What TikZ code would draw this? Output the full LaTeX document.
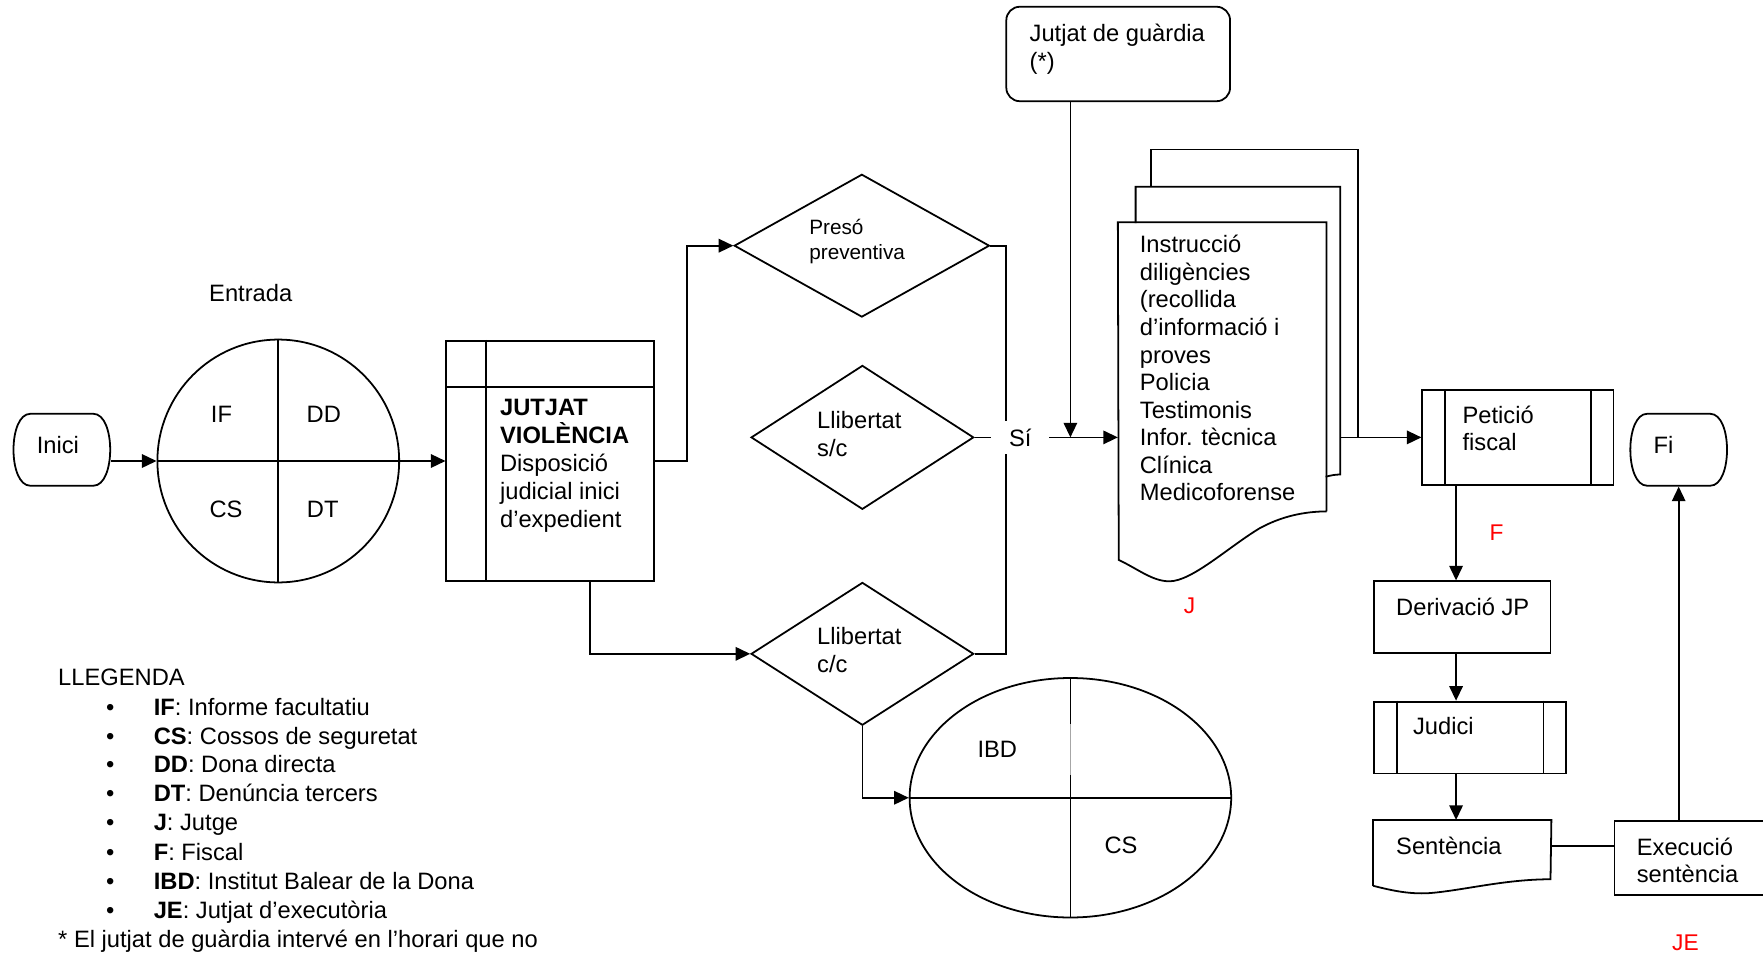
\documentclass[tikz,border=0pt]{standalone}
\usepackage{fontspec}
\setmainfont{Liberation Sans}
\usetikzlibrary{arrows.meta,shapes.geometric,calc}
\newcommand\ux{0.02cm}
\tikzset{
  sz/.style 2 args={minimum width=#1*\ux, minimum height=#2*\ux},
  txt/.style={anchor=north west, align=left},
  lbl/.style={anchor=base},
  arr/.style={-{Triangle[length=0.26cm,width=0.24cm]}},
  red label/.style={anchor=base, text=red, font=\fontsize{11.5}{13}\selectfont},
  legend/.style={anchor=base west},
}
\begin{document}
\begin{tikzpicture}[x=0.02cm, y=-0.02cm, line width=0.9pt,
  every node/.style={font=\fontsize{12}{14.1}\selectfont, inner sep=0pt}]
\useasboundingbox (0,0) rectangle (1568,850);
\clip (0,0) rectangle (1568,850);

% ---- start terminator
\node[sz={86}{64}] (inici) at (55,400) {};
\draw (27,368) -- (83,368) .. controls (103,368) and (103,432) .. (83,432)
      -- (27,432) .. controls (7,432) and (7,368) .. (27,368) -- cycle;
\node[lbl] (t-inici) at (51.5,403.5) {Inici};

% ---- entry circle
\node[draw, ellipse, sz={215}{216}] (ent) at (247.5,410) {};
\draw (ent.north) -- (ent.south);
\draw (ent.west) -- (ent.east);
\node[lbl] (t-ent) at (223,268.5) {Entrada};
\node[lbl] (t-if) at (197,375.5) {IF};
\node[lbl] (t-dd) at (288,375.5) {DD};
\node[lbl] (t-cs) at (201,460.5) {CS};
\node[lbl] (t-dt) at (287,460.5) {DT};
\draw[arr] (inici.east |- ent.west) -- (ent.west);

% ---- court box
\node[draw, sz={185}{214}] (jv) at (489.5,410) {};
\draw ([xshift=36*\ux]jv.north west) -- ([xshift=36*\ux]jv.south west);
\draw ([yshift=-42*\ux]jv.north west) -- ([yshift=-42*\ux]jv.north east);
\node[txt] (t-jv) at (444,354.5)
  {\textbf{JUTJAT}\\\textbf{VIOLÈNCIA}\\Disposició\\judicial inici\\d’expedient};
\draw[arr] (ent.east) -- (jv.west);

% ---- decisions
\node[draw, diamond, sz={227}{127}] (preso) at (766.5,218.5) {};
\node[txt, font=\fontsize{10.5}{12.5}\selectfont] (t-preso) at (719,194.4) {Presó\\preventiva};
\node[draw, diamond, sz={198}{128}] (sc) at (767,389) {};
\node[txt] (t-sc) at (726,365) {Llibertat\\s/c};
\node[draw, diamond, sz={198}{127}] (cc) at (767,581.5) {};
\node[txt] (t-cc) at (726,557) {Llibertat\\c/c};

\draw[arr] (jv.east) -- ++(28,0) |- (preso.west);
\draw[arr] ([xshift=35.5*\ux]jv.south) |- (cc.west);

% ---- "Sí" junction
\node[sz={50}{28}] (si) at (907.5,389) {Sí};
\coordinate (bus) at (895,389);
\draw (preso.east) -| (si.north -| bus);
\draw (cc.east) -| (si.south -| bus);
\draw (sc.east) -- (si.west);

% ---- duty court
\node[draw, rounded corners=0.24cm, sz={199}{84}] (guardia) at (994.5,48) {};
\node[txt, font=\fontsize{12}{14.3}\selectfont] (t-guardia) at (915,20.5) {Jutjat de guàrdia\\(*)};

% ---- instruction documents (stack)
\draw (1024,166) -- (1024,133) -- (1208,133) -- (1208,389);
\draw (1010,198.5) -- (1010,166) -- (1192,166) -- (1192,422)
      .. controls (1187,422) and (1183,423) .. (1179,424);
\node[sz={184}{255.5}] (doc) at (1087,326.25) {};
\draw (doc.south east) -- (doc.north east) -- (doc.north west) -- (995,498)
      .. controls (1012,506) and (1025,517) .. (1040,517)
      .. controls (1060,517) and (1092,487) .. (1120,470)
      .. controls (1140,459) and (1160,455) .. (doc.south east);
\node[txt, font=\fontsize{12}{13.95}\selectfont] (t-doc) at (1013,208.5)
  {Instrucció\\diligències\\(recollida\\d’informació i\\proves\\Policia\\Testimonis\\Infor. tècnica\\Clínica\\Medicoforense};
\node[red label] (t-j) at (1058,546) {J};

\draw[arr] (si.east) -- (si.east -| doc.west);
\coordinate (gd) at (952,389);
\draw[arr] (guardia.south -| gd) -- (gd);

% ---- prosecutor request
\node[draw, sz={170}{84}] (pet) at (1350,389) {};
\draw ([xshift=21*\ux]pet.north west) -- ([xshift=21*\ux]pet.south west);
\draw ([xshift=-21*\ux]pet.north east) -- ([xshift=-21*\ux]pet.south east);
\node[txt, font=\fontsize{12}{13.7}\selectfont] (t-pet) at (1300,360.5) {Petició\\fiscal};
\coordinate (stack) at (1192,389);
\draw[arr] (stack) -- (stack -| pet.west);
\node[red label] (t-f) at (1331,481) {F};

% ---- end terminator
\node[sz={86}{64}] (fi) at (1493,400) {};
\draw (1465,368) -- (1521,368) .. controls (1541,368) and (1541,432) .. (1521,432)
      -- (1465,432) .. controls (1445,432) and (1445,368) .. (1465,368) -- cycle;
\node[lbl] (t-fi) at (1479.5,403.5) {Fi};

% ---- trial sequence
\node[draw, sz={157}{64}] (der) at (1300.5,549) {};
\node[legend] (t-der) at (1241,547) {Derivació JP};
\node[draw, sz={171}{64}] (jud) at (1307.5,656) {};
\draw ([xshift=21*\ux]jud.north west) -- ([xshift=21*\ux]jud.south west);
\draw ([xshift=-21*\ux]jud.north east) -- ([xshift=-21*\ux]jud.south east);
\node[legend] (t-jud) at (1256,653) {Judici};
\node[sz={157}{57}] (sen) at (1300.5,758.5) {};
\draw (sen.south west) -- (sen.north west) -- (sen.north east) -- (1379,782)
      .. controls (1340,782) and (1305,791) .. (1275,794)
      .. controls (1255,796) and (1238,792) .. (sen.south west);
\node[legend] (t-sen) at (1241,760) {Sentència};
\node[draw, sz={139}{66}] (exe) at (1505.5,763) {};
\node[txt, font=\fontsize{12}{13.7}\selectfont] (t-exe) at (1455,744.5) {Execució\\sentència};
\node[red label] (t-je) at (1499,845) {JE};

\coordinate (vx) at (1295,0);
\draw[arr] (pet.south -| vx) -- (der.north -| vx);
\draw[arr] (der.south -| vx) -- (jud.north -| vx);
\draw[arr] (jud.south -| vx) -- (sen.north -| vx);
\draw ($(sen.north east)+(0,23)$) -- ($(exe.north west)+(0,23)$);
\draw[arr] (exe.north -| fi.south) -- (fi.south);

% ---- IBD circle
\node[draw, ellipse, sz={286}{213}] (ibd) at (952,709.5) {};
\draw (ibd.west) -- (ibd.east);
\draw (ibd.north) -- (952,644);
\draw (952,689) -- (ibd.south);
\draw[line width=0.3pt, black!35] (952,644) -- (952,689);
\node[lbl] (t-ibd) at (887,674) {IBD};
\node[lbl] (t-ibdcs) at (997,759) {CS};
\draw[arr] (cc.south) |- (ibd.west);

% ---- legend
\node[legend] (leg) at (51,610) {LLEGENDA};
\foreach \y/\t [count=\i] in {
  636/{\textbf{IF}: Informe facultatiu},
  662/{\textbf{CS}: Cossos de seguretat},
  687/{\textbf{DD}: Dona directa},
  713/{\textbf{DT}: Denúncia tercers},
  739/{\textbf{J}: Jutge},
  765/{\textbf{F}: Fiscal},
  791/{\textbf{IBD}: Institut Balear de la Dona},
  817/{\textbf{JE}: Jutjat d’executòria}}{
  \node[lbl] (bul-\i) at (98,\y) {\textbullet};
  \node[legend] (item-\i) at (136,\y) {\t};
}
\node[legend] (note) at (51,843) {* El jutjat de guàrdia intervé en l’horari que no};
\end{tikzpicture}
\end{document}
